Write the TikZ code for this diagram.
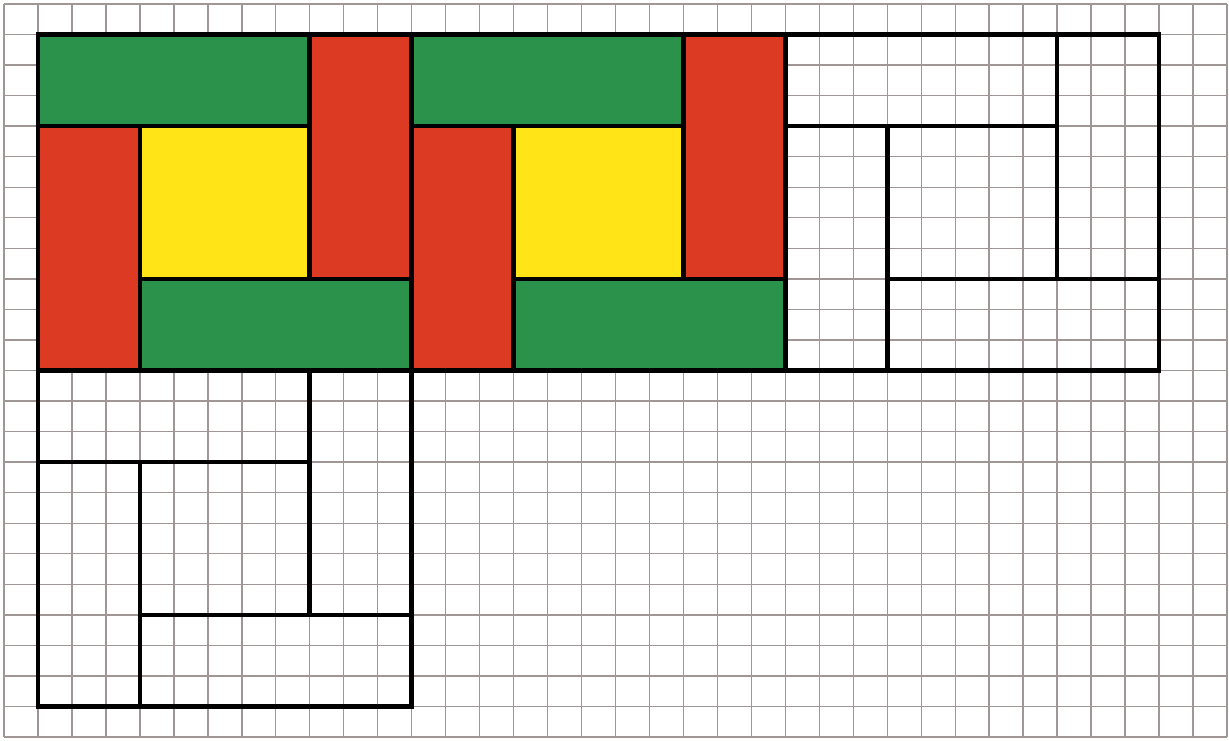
\documentclass[tikz,border=0pt]{standalone}
\definecolor{tgreen}{RGB}{42,146,74}
\definecolor{tred}{RGB}{220,58,34}
\definecolor{tyellow}{RGB}{255,228,24}
\definecolor{tgrid}{RGB}{160,150,150}
\begin{document}
\begin{tikzpicture}[x=16.985pt, y=-15.27pt,
  gridline/.style={draw=tgrid, line width=0.7pt},
  tile/.style={draw=black, line width=2.3pt, line join=miter},
  outline/.style={draw=black, line width=2.3pt, line cap=rect, line join=miter}]
\useasboundingbox (-0.118,-0.131) rectangle (36.06,24.10);
\fill[white] (-0.118,-0.131) rectangle (36.06,24.10);
% grid
\foreach \i in {0,...,36} \draw[gridline] (\i,0) -- (\i,24);
\foreach \j in {0,...,24} \draw[gridline] (0,\j) -- (36,\j);
% coloured blocks
\foreach \dx in {0,11} {
  \begin{scope}[xshift=\dx*16.985pt]
    \filldraw[tile, fill=tgreen]  (1,1) rectangle (9,4);
    \filldraw[tile, fill=tred]    (9,1) rectangle (12,9);
    \filldraw[tile, fill=tred]    (1,4) rectangle (4,12);
    \filldraw[tile, fill=tyellow] (4,4) rectangle (9,9);
    \filldraw[tile, fill=tgreen]  (4,9) rectangle (12,12);
  \end{scope}
}
% outline block right
\draw[outline] (23,1) rectangle (34,12);
\draw[outline] (31,1) -- (31,9);
\draw[outline] (23,4) -- (31,4);
\draw[outline] (26,4) -- (26,12);
\draw[outline] (26,9) -- (34,9);
% outline block below
\draw[outline] (1,12) rectangle (12,23);
\draw[outline] (9,12) -- (9,20);
\draw[outline] (1,15) -- (9,15);
\draw[outline] (4,15) -- (4,23);
\draw[outline] (4,20) -- (12,20);
\end{tikzpicture}
\end{document}
